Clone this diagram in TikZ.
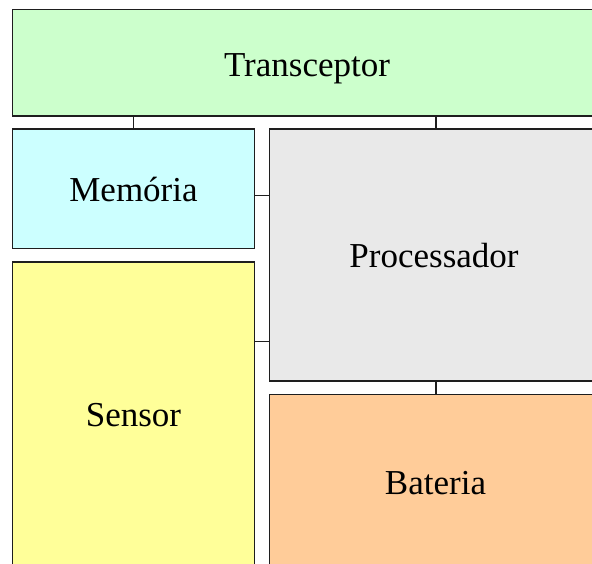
\documentclass[tikz,border=0pt]{standalone}
\usepackage{fontspec}
\setmainfont{Liberation Serif}
\definecolor{transfill}{HTML}{CCFFCC}
\definecolor{memfill}{HTML}{CCFFFF}
\definecolor{procfill}{HTML}{E9E9E9}
\definecolor{sensfill}{HTML}{FFFF99}
\definecolor{batfill}{HTML}{FFCC99}
\definecolor{edge}{HTML}{1E1E1E}
\tikzset{
  block/.style={draw=edge, line width=1.6pt, rectangle, inner sep=0pt, outer sep=0pt, anchor=north west},
  lbl/.style={anchor=base, inner sep=0pt, font=\fontsize{35}{42}\selectfont},
  wire/.style={draw=edge, line width=1.5pt}
}
\begin{document}
\begin{tikzpicture}[x=1pt,y=1pt]
  \useasboundingbox (0,0) rectangle (592,-564);
  \fill[white] (0,0) rectangle (592,-564);
  \clip (0,0) rectangle (592,-564);

  % blocks of the node
  \node[block, fill=transfill, minimum width=594.5, minimum height=106.5] (trans) at (12.5,-9.5) {};
  \node[block, fill=memfill,   minimum width=242,   minimum height=119.5] (mem)   at (12.5,-129) {};
  \node[block, fill=procfill,  minimum width=332.5, minimum height=252]   (proc)  at (269.5,-129) {};
  \node[block, fill=sensfill,  minimum width=242,   minimum height=340]   (sens)  at (12.5,-262) {};
  \node[block, fill=batfill,   minimum width=332.5, minimum height=210]   (bat)   at (269.5,-394.5) {};

  % labels
  \node[lbl] (ttrans) at (307,-76.7)   {Transceptor};
  \node[lbl] (tmem)   at (133.5,-201.7) {Memória};
  \node[lbl] (tproc)  at (434,-267.7)  {Processador};
  \node[lbl] (tsens)  at (133.5,-426.7) {Sensor};
  \node[lbl] (tbat)   at (435.5,-494)  {Bateria};

  % heights of the horizontal links
  \coordinate (mp) at (0,-195.7);
  \coordinate (sp) at (0,-341.3);

  % links between blocks
  \draw[wire] (trans.south -| mem.north) -- (mem.north);
  \draw[wire] (trans.south -| proc.north) -- (proc.north);
  \draw[wire] (mem.east |- mp) -- (proc.west |- mp);
  \draw[wire] (sens.east |- sp) -- (proc.west |- sp);
  \draw[wire] (proc.south) -- (bat.north);
\end{tikzpicture}
\end{document}
